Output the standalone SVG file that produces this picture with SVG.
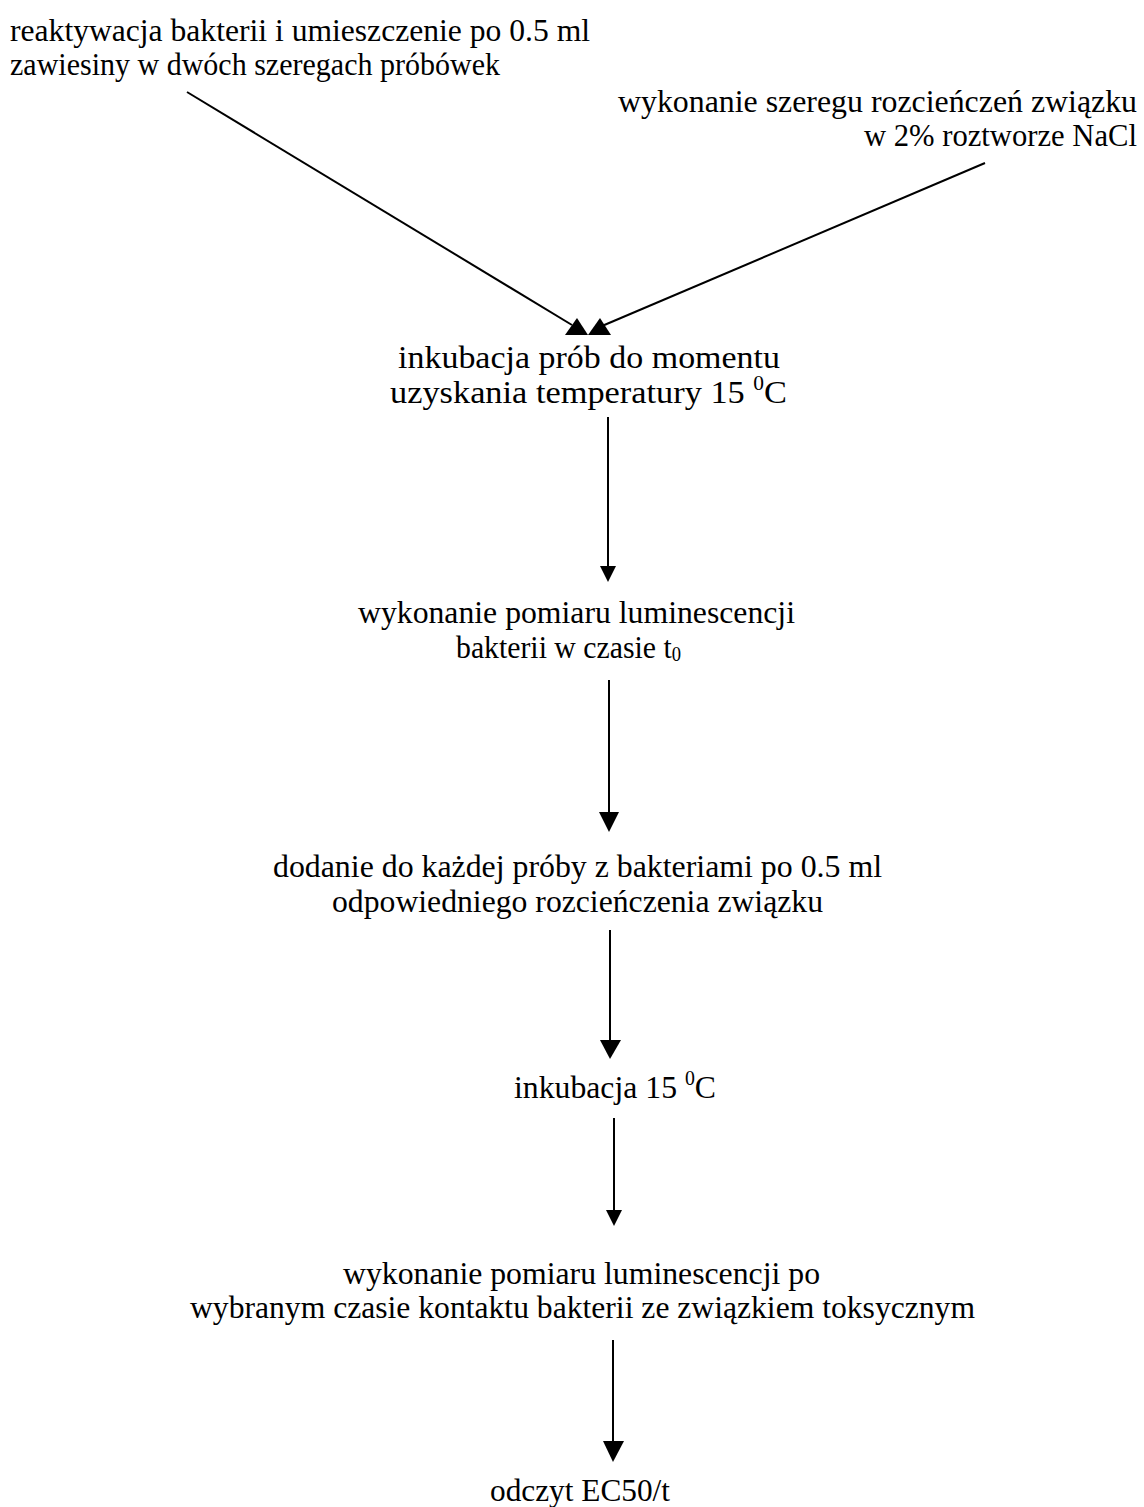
<svg xmlns="http://www.w3.org/2000/svg" width="1144" height="1507" viewBox="0 0 1144 1507">
<style>
text{font-family:"Liberation Serif","Times New Roman",serif;font-size:32px;fill:#000}
.sup{font-size:20px}
.conn line{stroke:#000;stroke-width:2}
.conn polygon{fill:#000}
</style>
<rect width="1144" height="1507" fill="#fff"/>
<g id="n1">
<text x="10" y="41" textLength="580" lengthAdjust="spacingAndGlyphs">reaktywacja bakterii i umieszczenie po 0.5 ml</text>
<text x="10" y="75" textLength="490" lengthAdjust="spacingAndGlyphs">zawiesiny w dwóch szeregach próbówek</text>
</g>
<g id="n2">
<text x="618" y="112" textLength="519" lengthAdjust="spacingAndGlyphs">wykonanie szeregu rozcieńczeń związku</text>
<text x="864" y="146" textLength="273" lengthAdjust="spacingAndGlyphs">w 2% roztworze NaCl</text>
</g>
<g id="n3">
<text x="398" y="368" textLength="382" lengthAdjust="spacingAndGlyphs">inkubacja prób do momentu</text>
<text x="390" y="403" textLength="397" lengthAdjust="spacingAndGlyphs">uzyskania temperatury 15 <tspan class="sup" dy="-13">0</tspan><tspan dy="13">C</tspan></text>
</g>
<g id="n4">
<text x="358" y="623" textLength="437" lengthAdjust="spacingAndGlyphs">wykonanie pomiaru luminescencji</text>
<text x="456" y="658" textLength="225" lengthAdjust="spacingAndGlyphs">bakterii w czasie t<tspan class="sup" dy="3">0</tspan></text>
</g>
<g id="n5">
<text x="273" y="877" textLength="609" lengthAdjust="spacingAndGlyphs">dodanie do każdej próby z bakteriami po 0.5 ml</text>
<text x="332" y="912" textLength="491" lengthAdjust="spacingAndGlyphs">odpowiedniego rozcieńczenia związku</text>
</g>
<g id="n6">
<text x="514" y="1098" textLength="202" lengthAdjust="spacingAndGlyphs">inkubacja 15 <tspan class="sup" dy="-13">0</tspan><tspan dy="13">C</tspan></text>
</g>
<g id="n7">
<text x="343" y="1284" textLength="477" lengthAdjust="spacingAndGlyphs">wykonanie pomiaru luminescencji po</text>
<text x="190" y="1318" textLength="785" lengthAdjust="spacingAndGlyphs">wybranym czasie kontaktu bakterii ze związkiem toksycznym</text>
</g>
<g id="n8">
<text x="490" y="1501" textLength="180" lengthAdjust="spacingAndGlyphs">odczyt EC50/t</text>
</g>
<g id="connectors" class="conn">
<line x1="187" y1="92" x2="572" y2="325"/>
<polygon points="565,335 577,318 588,335"/>
<line x1="985" y1="163" x2="602" y2="326"/>
<polygon points="588,335 600,318 611,335"/>
<line x1="608" y1="417" x2="608" y2="572"/>
<polygon points="600,566 616,566 608,582"/>
<line x1="609" y1="680" x2="609" y2="815"/>
<polygon points="599,812 619,812 609,832"/>
<line x1="610" y1="930" x2="610" y2="1045"/>
<polygon points="600,1040 621,1040 610,1059"/>
<line x1="614" y1="1118" x2="614" y2="1212"/>
<polygon points="606,1210 622,1210 614,1226"/>
<line x1="613" y1="1340" x2="613" y2="1445"/>
<polygon points="603,1441 624,1441 613,1462"/>
</g>
</svg>
